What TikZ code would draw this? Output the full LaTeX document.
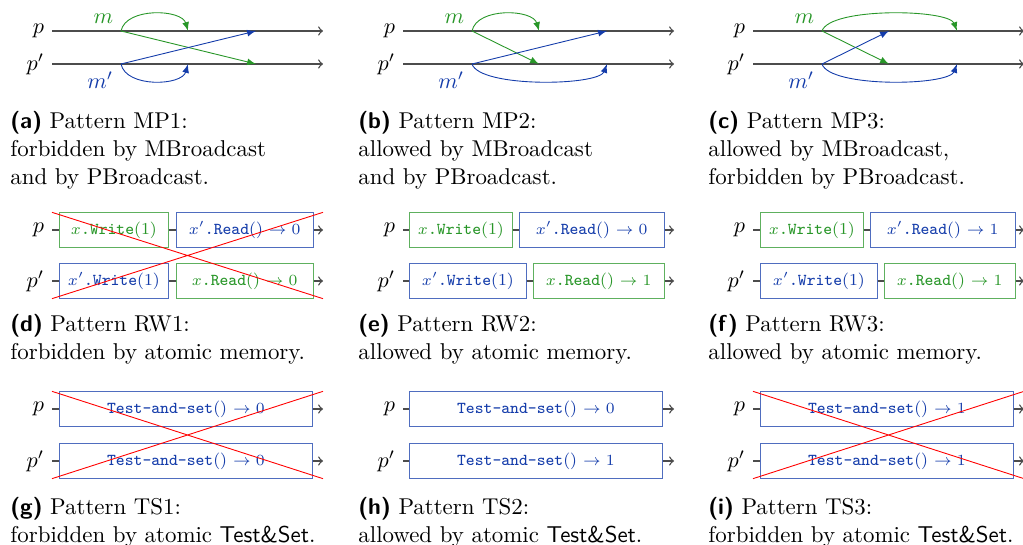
\documentclass[tikz,border=0pt]{standalone}
\usetikzlibrary{positioning}
\definecolor{msggreen}{RGB}{40,150,40}
\definecolor{msgblue}{RGB}{20,60,170}
\tikzset{
  proc/.style={anchor=east},
  timeline/.style={draw=black!70, semithick},
  opbox/.style={rectangle, minimum height=15.5pt, inner sep=2pt, font=\fontsize{7.5}{9}\selectfont},
  greenop/.style={opbox, draw=msggreen!75, text=msggreen},
  blueop/.style={opbox, draw=msgblue!75, text=msgblue},
  greenmsg/.style={draw=msggreen, -latex},
  bluemsg/.style={draw=msgblue, -latex},
  crossout/.style={draw=red},
  caption/.style={anchor=north west, align=left, inner sep=0pt, font=\fontsize{10.3}{12.6}\selectfont},
}
\newcommand{\sublabel}[1]{\textsf{\textbf{(#1)}}}
\newcommand{\TAS}{\textsf{Test\&Set}}
% the two processes of one pattern, #1 = gap between them
\newcommand{\twoprocs}[1]{%
  \node[proc] (p) at (0,0) {$p$};
  \node[proc] (q) at (0,#1) {$p'$};
  \coordinate (ps) at (69,0);
  \coordinate (pa) at (136,0);
  \coordinate (pb) at (204,0);
  \coordinate (pend) at (271,0);
  \coordinate (qs) at (69,#1);
  \coordinate (qa) at (136,#1);
  \coordinate (qb) at (204,#1);
  \coordinate (qend) at (271,#1);}

\begin{document}
\begin{tikzpicture}[x=0.45pt, y=-0.45pt]
\useasboundingbox (0,0) rectangle (1023,545);

% (a) MP1
\begin{scope}[shift={(52,31)}]
  \twoprocs{33}
  \draw[timeline,->] (p) -- (pend);
  \draw[timeline,->] (q) -- (qend);
  \node[above left, text=msggreen] (m) at (ps) {$m$};
  \node[below left, text=msgblue] (m2) at (qs) {$m'$};
  \draw[greenmsg] (ps) .. controls +(5,-24) and +(-6,-22) .. (pa);
  \draw[greenmsg] (ps) -- (qb);
  \draw[bluemsg] (qs) -- (pb);
  \draw[bluemsg] (qs) .. controls +(5,24) and +(-6,22) .. (qa);
\end{scope}

% (b) MP2
\begin{scope}[shift={(403,31)}]
  \twoprocs{33}
  \draw[timeline,->] (p) -- (pend);
  \draw[timeline,->] (q) -- (qend);
  \node[above left, text=msggreen] (m) at (ps) {$m$};
  \node[below left, text=msgblue] (m2) at (qs) {$m'$};
  \draw[greenmsg] (ps) .. controls +(5,-24) and +(-6,-22) .. (pa);
  \draw[greenmsg] (ps) -- (qa);
  \draw[bluemsg] (qs) -- (pb);
  \draw[bluemsg] (qs) .. controls +(8,24) and +(-8,22) .. (qb);
\end{scope}

% (c) MP3
\begin{scope}[shift={(753,31)}]
  \twoprocs{33}
  \draw[timeline,->] (p) -- (pend);
  \draw[timeline,->] (q) -- (qend);
  \node[above left, text=msggreen] (m) at (ps) {$m$};
  \node[below left, text=msgblue] (m2) at (qs) {$m'$};
  \draw[greenmsg] (ps) .. controls +(8,-24) and +(-8,-22) .. (pb);
  \draw[greenmsg] (ps) -- (qa);
  \draw[bluemsg] (qs) -- (pa);
  \draw[bluemsg] (qs) .. controls +(8,24) and +(-8,22) .. (qb);
\end{scope}

\node[caption] (capa) at (10,111) {\sublabel{a} Pattern MP1:\\forbidden by MBroadcast\\and by PBroadcast.};
\node[caption] (capb) at (358,111) {\sublabel{b} Pattern MP2:\\allowed by MBroadcast\\and by PBroadcast.};
\node[caption] (capc) at (708,111) {\sublabel{c} Pattern MP3:\\allowed by MBroadcast,\\forbidden by PBroadcast.};

% (d) RW1
\begin{scope}[shift={(52,230)}]
  \twoprocs{51}
  \node[greenop, anchor=west, minimum width=49pt] (p1) at (7,0) {$x$\texttt{.Write}(1)};
  \node[blueop, right=3.15pt of p1, minimum width=61.6pt] (p2) {$x'$\texttt{.Read}() $\rightarrow 0$};
  \node[blueop, anchor=west, minimum width=49pt] (q1) at (7,51) {$x'$\texttt{.Write}(1)};
  \node[greenop, right=3.15pt of q1, minimum width=61.6pt] (q2) {$x$\texttt{.Read}() $\rightarrow 0$};
  \draw[timeline] (p) -- (p1) (p1) -- (p2);
  \draw[timeline,->] (p2) -- (pend);
  \draw[timeline] (q) -- (q1) (q1) -- (q2);
  \draw[timeline,->] (q2) -- (qend);
  \draw[crossout] (p.east |- p1.north) -- (pend |- q2.south) (p.east |- q2.south) -- (pend |- p1.north);
\end{scope}

% (e) RW2
\begin{scope}[shift={(403,230)}]
  \twoprocs{51}
  \node[greenop, anchor=west, minimum width=46.3pt] (p1) at (6,0) {$x$\texttt{.Write}(1)};
  \node[blueop, right=2.7pt of p1, minimum width=65.2pt] (p2) {$x'$\texttt{.Read}() $\rightarrow 0$};
  \node[blueop, anchor=west, minimum width=52.6pt] (q1) at (6,51) {$x'$\texttt{.Write}(1)};
  \node[greenop, right=2.7pt of q1, minimum width=58.9pt] (q2) {$x$\texttt{.Read}() $\rightarrow 1$};
  \draw[timeline] (p) -- (p1) (p1) -- (p2);
  \draw[timeline,->] (p2) -- (pend);
  \draw[timeline] (q) -- (q1) (q1) -- (q2);
  \draw[timeline,->] (q2) -- (qend);
\end{scope}

% (f) RW3
\begin{scope}[shift={(753,230)}]
  \twoprocs{51}
  \node[greenop, anchor=west, minimum width=46.3pt] (p1) at (7,0) {$x$\texttt{.Write}(1)};
  \node[blueop, right=2.7pt of p1, minimum width=65.2pt] (p2) {$x'$\texttt{.Read}() $\rightarrow 1$};
  \node[blueop, anchor=west, minimum width=52.6pt] (q1) at (7,51) {$x'$\texttt{.Write}(1)};
  \node[greenop, right=2.7pt of q1, minimum width=58.9pt] (q2) {$x$\texttt{.Read}() $\rightarrow 1$};
  \draw[timeline] (p) -- (p1) (p1) -- (p2);
  \draw[timeline,->] (p2) -- (pend);
  \draw[timeline] (q) -- (q1) (q1) -- (q2);
  \draw[timeline,->] (q2) -- (qend);
\end{scope}

\node[caption] (capd) at (10,314) {\sublabel{d} Pattern RW1:\\forbidden by atomic memory.};
\node[caption] (cape) at (358,314) {\sublabel{e} Pattern RW2:\\allowed by atomic memory.};
\node[caption] (capf) at (708,314) {\sublabel{f} Pattern RW3:\\allowed by atomic memory.};

% (g) TS1
\begin{scope}[shift={(52,409)}]
  \twoprocs{52}
  \node[blueop, anchor=west, minimum width=113.8pt] (p1) at (7,0) {\texttt{Test-and-set}() $\rightarrow 0$};
  \node[blueop, anchor=west, minimum width=113.8pt] (q1) at (7,52) {\texttt{Test-and-set}() $\rightarrow 0$};
  \draw[timeline] (p) -- (p1);
  \draw[timeline,->] (p1) -- (pend);
  \draw[timeline] (q) -- (q1);
  \draw[timeline,->] (q1) -- (qend);
  \draw[crossout] (p.east |- p1.north) -- (pend |- q1.south) (p.east |- q1.south) -- (pend |- p1.north);
\end{scope}

% (h) TS2
\begin{scope}[shift={(403,409)}]
  \twoprocs{52}
  \node[blueop, anchor=west, minimum width=113.8pt] (p1) at (6,0) {\texttt{Test-and-set}() $\rightarrow 0$};
  \node[blueop, anchor=west, minimum width=113.8pt] (q1) at (6,52) {\texttt{Test-and-set}() $\rightarrow 1$};
  \draw[timeline] (p) -- (p1);
  \draw[timeline,->] (p1) -- (pend);
  \draw[timeline] (q) -- (q1);
  \draw[timeline,->] (q1) -- (qend);
\end{scope}

% (i) TS3
\begin{scope}[shift={(753,409)}]
  \twoprocs{52}
  \node[blueop, anchor=west, minimum width=113.8pt] (p1) at (7,0) {\texttt{Test-and-set}() $\rightarrow 1$};
  \node[blueop, anchor=west, minimum width=113.8pt] (q1) at (7,52) {\texttt{Test-and-set}() $\rightarrow 1$};
  \draw[timeline] (p) -- (p1);
  \draw[timeline,->] (p1) -- (pend);
  \draw[timeline] (q) -- (q1);
  \draw[timeline,->] (q1) -- (qend);
  \draw[crossout] (p.east |- p1.north) -- (pend |- q1.south) (p.east |- q1.south) -- (pend |- p1.north);
\end{scope}

\node[caption] (capg) at (10,497) {\sublabel{g} Pattern TS1:\\forbidden by atomic \TAS.};
\node[caption] (caph) at (358,497) {\sublabel{h} Pattern TS2:\\allowed by atomic \TAS.};
\node[caption] (capi) at (708,497) {\sublabel{i} Pattern TS3:\\forbidden by atomic \TAS.};
\end{tikzpicture}
\end{document}
